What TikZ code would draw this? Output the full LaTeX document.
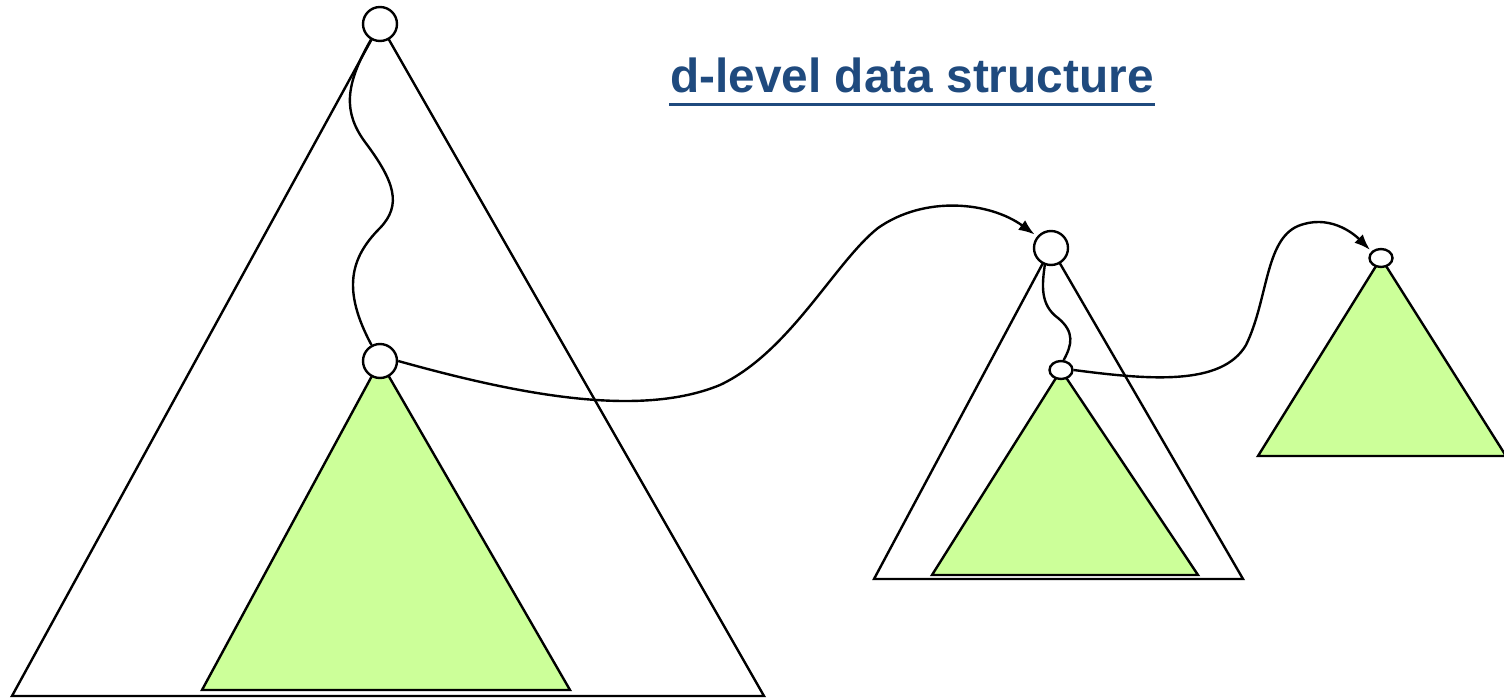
\documentclass[tikz,border=0pt]{standalone}
\usepackage{fontspec}
\setmainfont{Liberation Sans}
\usetikzlibrary{arrows.meta,shapes.geometric}
\definecolor{leaf}{HTML}{CCFF99}
\definecolor{titleblue}{HTML}{1F4A7E}
\begin{document}
\begin{tikzpicture}[x=1pt,y=-1pt,line width=2.4pt,line join=miter,
  bigvtx/.style={circle,draw,fill=white,inner sep=0pt,minimum size=34pt},
  smallvtx/.style={ellipse,draw,fill=white,inner sep=0pt,minimum width=23pt,minimum height=18pt},
  tree/.style={draw,fill=white},
  subtree/.style={draw,fill=leaf},
  link/.style={-{Latex[length=16pt,width=12pt]}}]
\useasboundingbox (0,0) rectangle (1504,698);
% apex coordinates
\coordinate (r1c) at (380,24);
\coordinate (m1c) at (380,361);
\coordinate (r2c) at (1051,248);
\coordinate (m2c) at (1061,370);
\coordinate (r3c) at (1381,258);
% triangles
\draw[tree] (r1c) -- (12,696) -- (764,696) -- cycle;
\draw[subtree] (m1c) -- (202,690) -- (570,690) -- cycle;
\draw[tree] (r2c) -- (874,579) -- (1243,579) -- cycle;
\draw[subtree] (m2c) -- (932,575) -- (1198,575) -- cycle;
\draw[subtree] (r3c) -- (1258,456) -- (1506,456) -- cycle;
% vertices
\node[bigvtx] (r1) at (r1c) {};
\node[bigvtx] (m1) at (m1c) {};
\node[bigvtx] (r2) at (r2c) {};
\node[smallvtx] (m2) at (m2c) {};
\node[smallvtx] (r3) at (r3c) {};
% search paths
\draw (r1.240) .. controls (345,85) and (343,112) .. (365,142)
  .. controls (395,182) and (402,205) .. (380,228)
  .. controls (350,258) and (342,290) .. (m1.118);
\draw (r2.250) .. controls (1042,285) and (1040,305) .. (1058,318)
  .. controls (1075,332) and (1072,345) .. (m2.75);
% links to next level
\draw[link,shorten >=3pt] (m1.east) .. controls (520,395) and (640,418) .. (720,385)
  .. controls (790,352) and (835,262) .. (878,228)
  .. controls (925,195) and (990,202) .. (r2.140);
\draw[link,shorten >=2pt] (m2.east) .. controls (1150,380) and (1222,386) .. (1246,345)
  .. controls (1268,300) and (1265,240) .. (1298,226)
  .. controls (1328,214) and (1352,232) .. (r3.145);
% title
\node[text=titleblue,font=\fontsize{47.8}{56}\selectfont\bfseries,anchor=base west,inner sep=0pt] (title) at (669,93) {d-level data structure};
\draw[titleblue,line width=3pt] ([yshift=-12pt]title.base west) -- ([yshift=-12pt]title.base east);
\end{tikzpicture}
\end{document}
